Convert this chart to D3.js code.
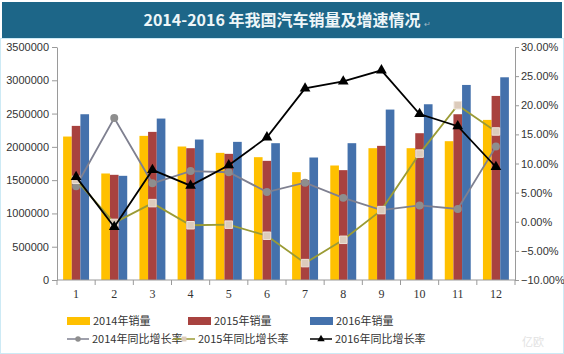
<!DOCTYPE html>
<html>
<head>
<meta charset="utf-8">
<script src="https://cdn.jsdelivr.net/npm/d3@7"></script>
<style>
  body { margin: 0; background: #fff; }
  svg { display: block; }
</style>
</head>
<body>
<svg id="chart" width="564" height="354"></svg>
<script>
const months = ["1", "2", "3", "4", "5", "6", "7", "8", "9", "10", "11", "12"];

// 销量（辆）
const sales2014 = [2155000, 1600000, 2165000, 2005000, 1910000, 1845000, 1620000, 1720000, 1980000, 1980000, 2085000, 2405000];
const sales2015 = [2315000, 1580000, 2225000, 1980000, 1895000, 1790000, 1500000, 1650000, 2015000, 2205000, 2490000, 2765000];
const sales2016 = [2490000, 1565000, 2425000, 2110000, 2075000, 2055000, 1840000, 2055000, 2560000, 2640000, 2930000, 3045000];

// 同比增长率（%）
const growth2014 = [6.1, 17.8, 6.6, 8.7, 8.5, 5.1, 6.7, 4.1, 2.0, 2.8, 2.2, 12.9];
const growth2015 = [7.2, -0.2, 3.2, -0.6, -0.5, -2.4, -7.1, -3.1, 2.0, 11.7, 20.0, 15.5];
const growth2016 = [7.7, -0.9, 8.9, 6.2, 9.7, 14.5, 22.9, 24.1, 26.0, 18.5, 16.4, 9.4];

const leftTicks = [0, 500000, 1000000, 1500000, 2000000, 2500000, 3000000, 3500000];
const rightTicks = [-10, -5, 0, 5, 10, 15, 20, 25, 30];

const barSeries = [
  { name: "2014年销量", values: sales2014, color: "#FFC000" },
  { name: "2015年销量", values: sales2015, color: "#A8423F" },
  { name: "2016年销量", values: sales2016, color: "#4471AC" }
];
const lineSeries = [
  { name: "2014年同比增长率", values: growth2014, color: "#7f8090", marker: "circle", fill: "#8e8e8e" },
  { name: "2015年同比增长率", values: growth2015, color: "#9b9b35", marker: "square", fill: "#dccbbb" },
  { name: "2016年同比增长率", values: growth2016, color: "#000000", marker: "triangle", fill: "#000000" }
];

const svg = d3.select("#chart");
const margin = { left: 57, right: 49, top: 47, bottom: 74 };
const W = 564, H = 354;

// 外框和标题栏
svg.append("rect")
  .attr("x", 0.5).attr("y", 38.5)
  .attr("width", W - 1).attr("height", H - 39)
  .attr("fill", "#fff").attr("stroke", "#cdeaf5");

svg.append("rect")
  .attr("x", 2).attr("y", 2)
  .attr("width", W - 4).attr("height", 36)
  .attr("fill", "#1d6688");

svg.append("text")
  .attr("x", W / 2).attr("y", 26)
  .attr("text-anchor", "middle")
  .style("font-family", "'Noto Sans CJK SC', sans-serif")
  .style("font-weight", "bold")
  .style("font-size", "16px")
  .style("fill", "#eef6f8")
  .text("2014-2016 年我国汽车销量及增速情况");

svg.append("text")
  .attr("x", 424).attr("y", 27)
  .style("font-size", "8px")
  .style("fill", "#9fb8c4")
  .text("↵");

const x0 = d3.scaleBand().domain(months).range([margin.left, W - margin.right]).paddingInner(0.32).paddingOuter(0.16);
const x1 = d3.scaleBand().domain(barSeries.map(d => d.name)).range([0, x0.bandwidth()]);
const yL = d3.scaleLinear().domain([0, 3500000]).range([H - margin.bottom, margin.top]);
const yR = d3.scaleLinear().domain([-10, 30]).range([H - margin.bottom, margin.top]);
const xc = m => x0(m) + x0.bandwidth() / 2;

// 柱子
barSeries.forEach(s => {
  svg.append("g").selectAll("rect")
    .data(months)
    .join("rect")
    .attr("x", (m, i) => x0(m) + x1(s.name))
    .attr("y", (m, i) => yL(s.values[i]))
    .attr("width", x1.bandwidth())
    .attr("height", (m, i) => yL(0) - yL(s.values[i]))
    .attr("fill", s.color);
});

// 坐标轴
const axisColor = "#9a9a9a";
const gL = svg.append("g")
  .attr("transform", `translate(${margin.left},0)`)
  .call(d3.axisLeft(yL).tickValues(leftTicks).tickFormat(d3.format("d")).tickSize(5).tickSizeOuter(0));
const gR = svg.append("g")
  .attr("transform", `translate(${W - margin.right},0)`)
  .call(d3.axisRight(yR).tickValues(rightTicks).tickFormat(d => d3.format(".2f")(d) + "%").tickSize(4).tickSizeOuter(0).tickPadding(2));

// x 轴：刻度在分组边界
const xLeft = margin.left, xRight = W - margin.right;
const gX = svg.append("g");
gX.append("line")
  .attr("x1", xLeft).attr("x2", xRight)
  .attr("y1", yL(0)).attr("y2", yL(0))
  .attr("stroke", axisColor);
gX.selectAll("line.tick")
  .data(d3.range(months.length + 1))
  .join("line")
  .attr("class", "tick")
  .attr("x1", i => xLeft + i * (xRight - xLeft) / months.length)
  .attr("x2", i => xLeft + i * (xRight - xLeft) / months.length)
  .attr("y1", yL(0)).attr("y2", yL(0) + 5)
  .attr("stroke", axisColor);
gX.selectAll("text")
  .data(months)
  .join("text")
  .attr("x", xc)
  .attr("y", yL(0) + 18)
  .attr("text-anchor", "middle")
  .style("font-family", "'Liberation Serif', serif")
  .style("font-size", "12px")
  .style("fill", "#333")
  .text(d => d);

[gL, gR].forEach(g => {
  g.select(".domain").attr("stroke", axisColor);
  g.selectAll(".tick line").attr("stroke", axisColor);
  g.selectAll(".tick text")
    .style("font-family", "'Liberation Sans', sans-serif")
    .style("font-size", "11px")
    .style("fill", "#333");
});

// 折线和标记
const markerPath = {
  circle: d3.symbol().type(d3.symbolCircle).size(50)(),
  square: d3.symbol().type(d3.symbolSquare).size(56)(),
  triangle: d3.symbol().type(d3.symbolTriangle).size(50)()
};

lineSeries.forEach(s => {
  const line = d3.line().x((d, i) => xc(months[i])).y(d => yR(d));
  svg.append("path")
    .datum(s.values)
    .attr("d", line)
    .attr("fill", "none")
    .attr("stroke", s.color)
    .attr("stroke-width", 1.8);
  svg.append("g").selectAll("path")
    .data(s.values)
    .join("path")
    .attr("d", markerPath[s.marker])
    .attr("transform", (d, i) => `translate(${xc(months[i])},${yR(d)})`)
    .attr("fill", s.fill)
    .attr("stroke", s.marker === "square" ? "#eee4da" : "none")
    .attr("stroke-width", 1);
});

// 图例
const legendX = [67, 188, 310];
const legendFont = "'Noto Sans CJK SC', sans-serif";
barSeries.forEach((s, i) => {
  svg.append("rect")
    .attr("x", legendX[i]).attr("y", 317)
    .attr("width", 23).attr("height", 8)
    .attr("fill", s.color);
  svg.append("text")
    .attr("x", legendX[i] + 26).attr("y", 325)
    .style("font-family", legendFont)
    .style("font-size", "11px")
    .style("fill", "#333")
    .text(s.name);
});
const legendX2 = [67, 173, 310];
lineSeries.forEach((s, i) => {
  const lx = legendX2[i];
  svg.append("line")
    .attr("x1", lx).attr("x2", lx + 22)
    .attr("y1", 339).attr("y2", 339)
    .attr("stroke", s.color)
    .attr("stroke-width", 1.5);
  svg.append("path")
    .attr("d", d3.symbol().type(s.marker === "circle" ? d3.symbolCircle : s.marker === "square" ? d3.symbolSquare : d3.symbolTriangle).size(24)())
    .attr("transform", `translate(${lx + 11},339)`)
    .attr("fill", s.fill);
  svg.append("text")
    .attr("x", lx + 25).attr("y", 343)
    .style("font-family", legendFont)
    .style("font-size", "11px")
    .style("fill", "#333")
    .text(s.name);
});

// 水印
svg.append("text")
  .attr("x", 522).attr("y", 346)
  .style("font-family", legendFont)
  .style("font-size", "11px")
  .style("fill", "#e2e2e2")
  .text("亿欧");
</script>
</body>
</html>
